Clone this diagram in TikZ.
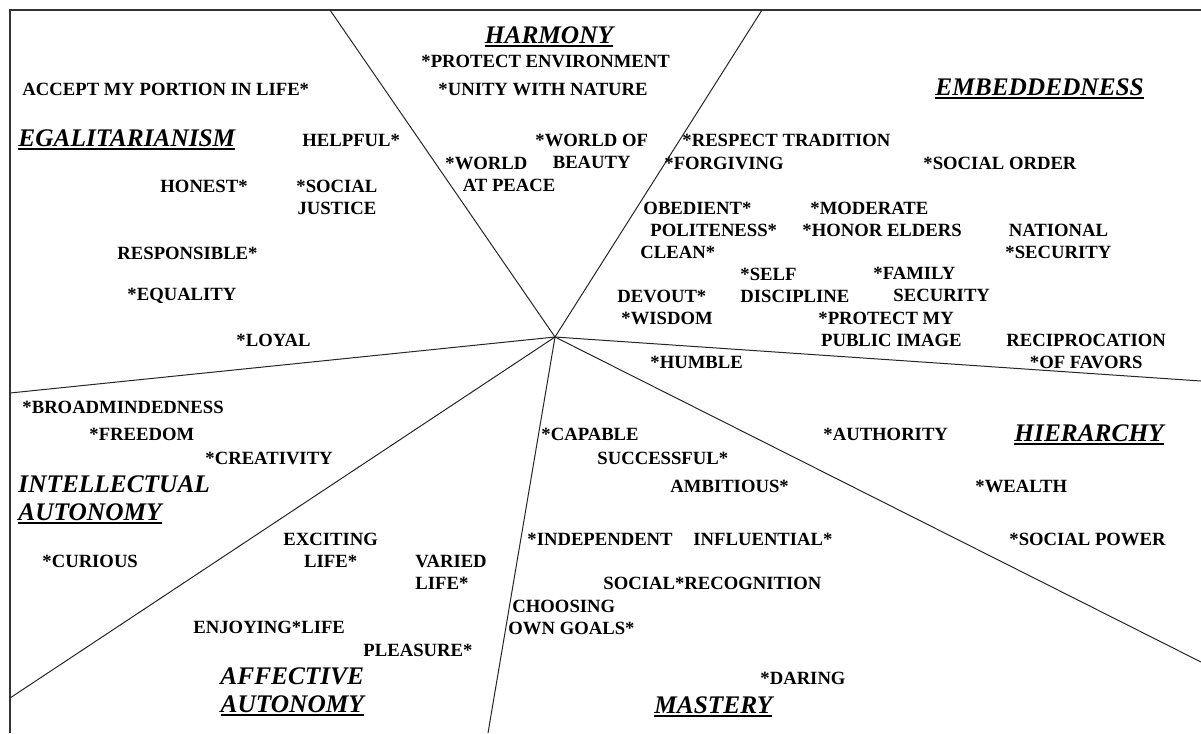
\documentclass[tikz,border=0pt]{standalone}
\usepackage{fontspec}
\setmainfont{Liberation Serif}

% heavy underline for the domain names
\newcommand\ulhead[1]{\setbox0\hbox{#1}\rlap{\vrule height -1.4pt depth 3pt width \wd0}\box0}

\begin{document}
\begin{tikzpicture}[
  x=0.75pt, y=-0.75pt, line width=.7pt,
  frame/.style={draw=black!80, line width=1.2pt},
  spoke/.style={draw=black!85, line width=.75pt},
  value/.style={font=\bfseries\fontsize{14}{16.5}\selectfont, inner sep=0pt, anchor=west},
  dname/.style={font=\bfseries\itshape\fontsize{19}{21}\selectfont, inner sep=0pt, anchor=base west},
]
  \useasboundingbox (0,0) rectangle (1201,733);

  % Page frame (only top and left edges are on the sheet).
  \draw[frame] (10,733) -- (10,10) -- (1201,10);

  % Spokes dividing the seven domains.
  \coordinate (ctr) at (555,337);
  \coordinate (s1) at (330,10);
  \coordinate (s2) at (762,10);
  \coordinate (s3) at (1201,381);
  \coordinate (s4) at (1201,662);
  \coordinate (s5) at (488,733);
  \coordinate (s6) at (10,698);
  \coordinate (s7) at (10,393);
  \foreach \s in {s1,s2,s3,s4,s5,s6,s7}
    \draw[spoke] (ctr) -- (\s);

  % Egalitarianism
  \node[dname] (egal) at (18,146) {\ulhead{EGALITARIANISM}};
  \node[value] (accept) at (22,89) {ACCEPT MY PORTION IN LIFE*};
  \node[value] (helpful) at (302,140) {HELPFUL*};
  \node[value] (honest) at (160,186) {HONEST*};
  \node[value, align=center] (socjust) at (296,197) {*SOCIAL\\JUSTICE};
  \node[value] (respons) at (117,253) {RESPONSIBLE*};
  \node[value] (equality) at (127,296) {*EQUALITY};
  \node[value] (loyal) at (236,340) {*LOYAL};

  % Harmony
  \node[dname, anchor=base] (harmony) at (549,43) {\ulhead{HARMONY}};
  \node[value] (protenv) at (421,61) {*PROTECT ENVIRONMENT};
  \node[value] (unity) at (438,89) {*UNITY WITH NATURE};
  \node[value, align=center] (beauty) at (535,151) {*WORLD OF\\BEAUTY};
  \node[value, align=left] (peace) at (445,174) {*WORLD\\\hspace*{13pt}AT PEACE};

  % Embeddedness
  \node[dname] (embed) at (935,95) {\ulhead{EMBEDDEDNESS}};
  \node[value] (tradition) at (682,140) {*RESPECT TRADITION};
  \node[value] (forgiving) at (664,163) {*FORGIVING};
  \node[value] (socorder) at (923,163) {*SOCIAL ORDER};
  \node[value] (obedient) at (643,208) {OBEDIENT*};
  \node[value] (polite) at (650,230) {POLITENESS*};
  \node[value] (clean) at (640,252) {CLEAN*};
  \node[value] (moderate) at (810,208) {*MODERATE};
  \node[value] (honor) at (802,230) {*HONOR ELDERS};
  \node[value, align=center] (national) at (1005,241) {NATIONAL\\*SECURITY};
  \node[value, align=left] (selfdisc) at (740,285) {*SELF\\DISCIPLINE};
  \node[value, align=left] (family) at (873,284) {*FAMILY\\\hspace*{15pt}SECURITY};
  \node[value] (devout) at (617,296) {DEVOUT*};
  \node[value] (wisdom) at (621,318) {*WISDOM};
  \node[value, align=left] (pubimage) at (818,329) {*PROTECT MY\\\hspace*{2pt}PUBLIC IMAGE};
  \node[value, align=center] (recip) at (1006,351) {RECIPROCATION\\*OF FAVORS};
  \node[value] (humble) at (650,362) {*HUMBLE};

  % Intellectual autonomy (base anchor sits on the last line)
  \node[value] (broad) at (22,407) {*BROADMINDEDNESS};
  \node[value] (freedom) at (89,434) {*FREEDOM};
  \node[value] (creativity) at (205,458) {*CREATIVITY};
  \node[dname, align=left] (intell) at (18,520) {INTELLECTUAL\\\ulhead{AUTONOMY}};
  \node[value] (curious) at (42,561) {*CURIOUS};

  % Affective autonomy
  \node[value, align=center] (exciting) at (283,550) {EXCITING\\LIFE*};
  \node[value, align=left] (varied) at (415,572) {VARIED\\LIFE*};
  \node[value] (enjoying) at (193,627) {ENJOYING*LIFE};
  \node[value] (pleasure) at (363,650) {PLEASURE*};
  \node[dname, align=center] (affect) at (220,712) {AFFECTIVE\\\ulhead{AUTONOMY}};

  % Mastery
  \node[value] (capable) at (541,434) {*CAPABLE};
  \node[value] (successful) at (597,458) {SUCCESSFUL*};
  \node[value] (ambitious) at (670,486) {AMBITIOUS*};
  \node[value] (independent) at (527,539) {*INDEPENDENT};
  \node[value] (influential) at (693,539) {INFLUENTIAL*};
  \node[value] (recog) at (603,583) {SOCIAL*RECOGNITION};
  \node[value, align=left] (choosing) at (508,617) {\hspace*{3pt}CHOOSING\\OWN GOALS*};
  \node[value] (daring) at (760,678) {*DARING};
  \node[dname] (mastery) at (654,713) {\ulhead{MASTERY}};

  % Hierarchy
  \node[value] (authority) at (823,434) {*AUTHORITY};
  \node[dname] (hierarchy) at (1014,441) {\ulhead{HIERARCHY}};
  \node[value] (wealth) at (975,486) {*WEALTH};
  \node[value] (socpower) at (1009,539) {*SOCIAL POWER};
\end{tikzpicture}
\end{document}
